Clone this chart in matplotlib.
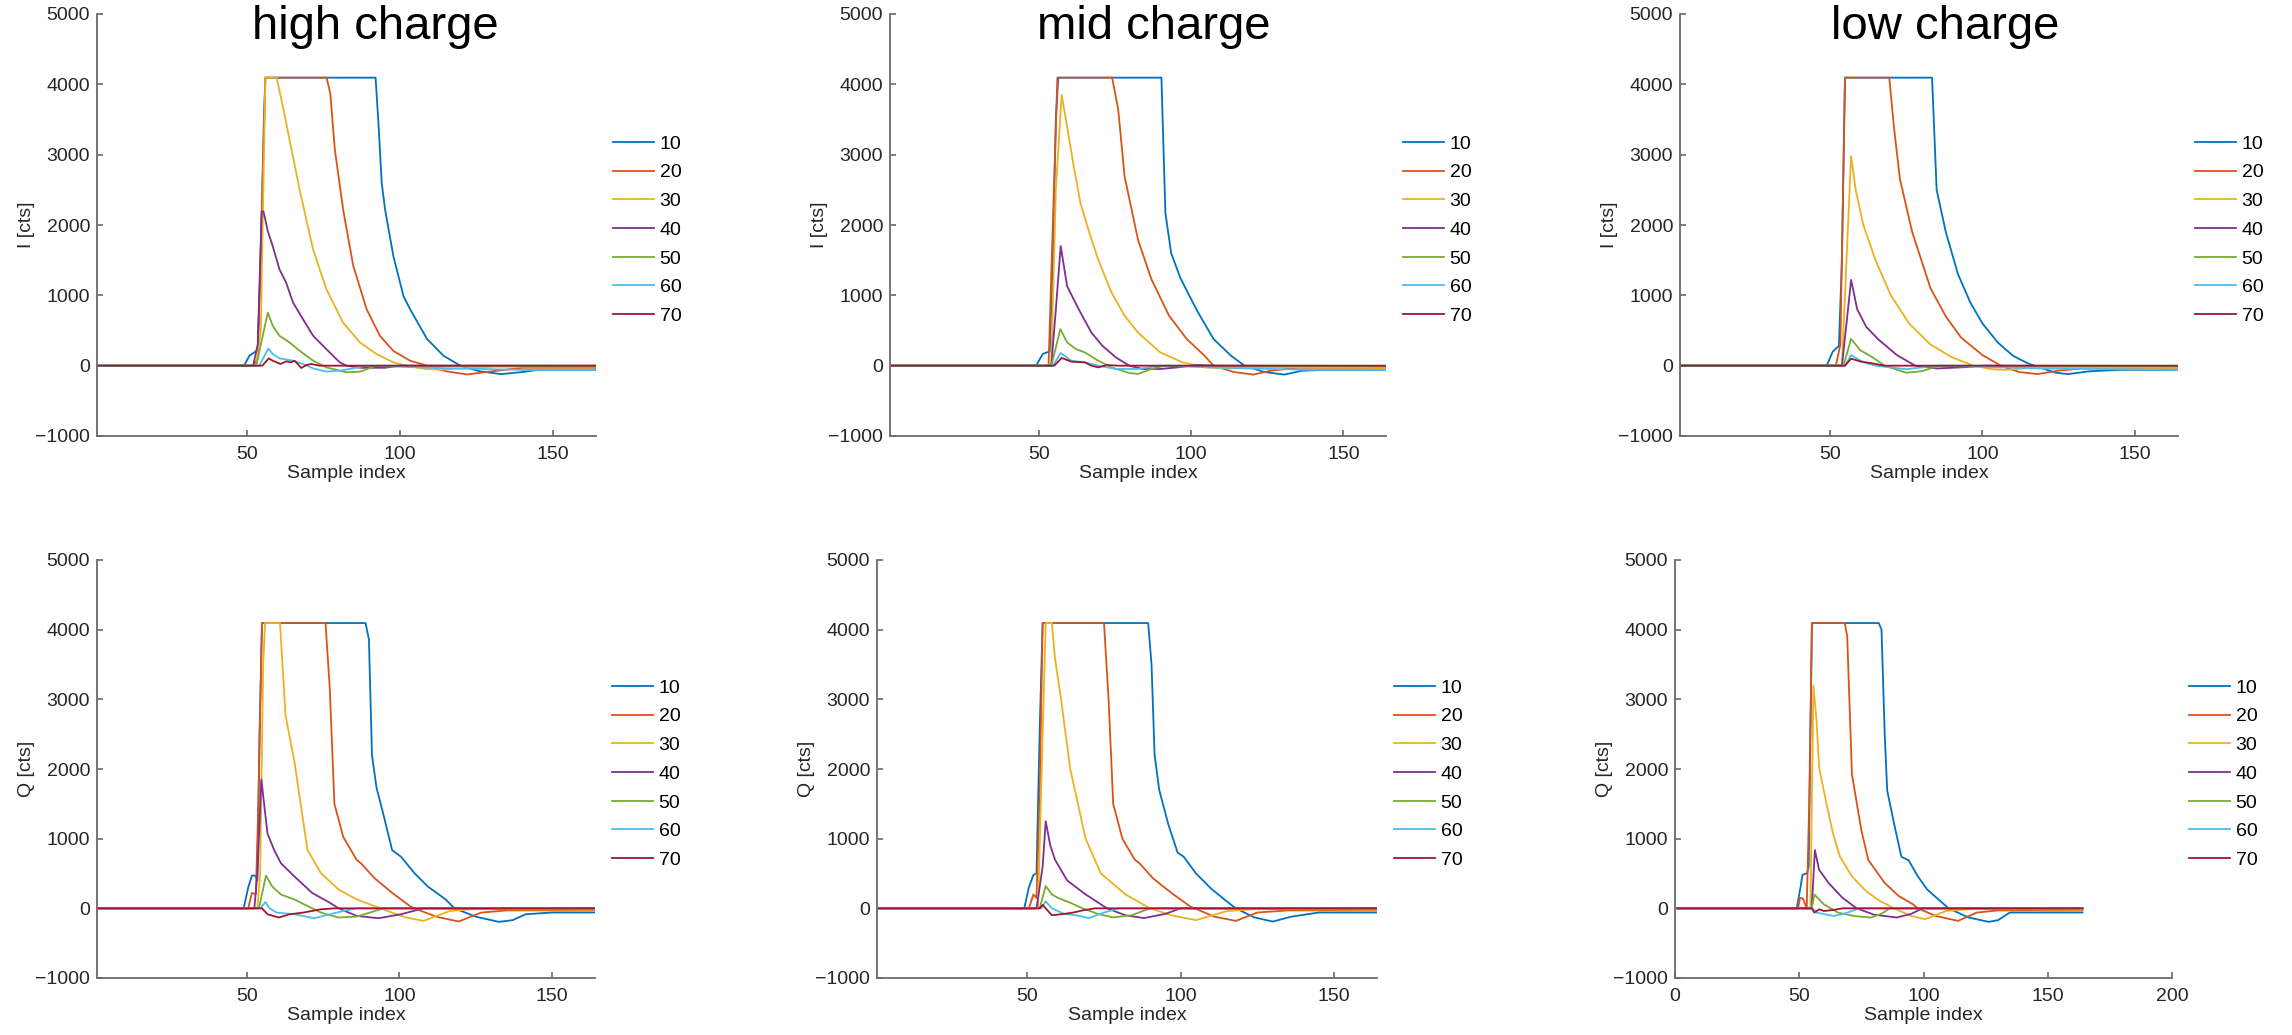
import numpy as np
import matplotlib.pyplot as plt

plt.rcParams['font.family'] = ['Liberation Sans', 'DejaVu Sans']

# Legend entries and MATLAB default colours
labels = ['10', '20', '30', '40', '50', '60', '70']
colors = ['#0072BD', '#D95319', '#EDB120', '#7E2F8E', '#77AC30', '#4DBEEE', '#A2142F']

titles = ['high charge', 'mid charge', 'low charge']

# ---- I, high charge (breakpoints) ----
hi_I_x = [
    [1, 49, 50.8, 52.4, 53.5, 54.5, 55.5, 56, 92, 93, 94, 95.1, 97.8, 101.1, 103.3, 108.8, 114.2, 119.7, 126, 133, 140, 145, 164],
    [1, 52, 53.5, 55, 56, 76, 77.2, 78.7, 81.4, 84.7, 89.1, 93.4, 97.8, 103.3, 108.8, 115, 122, 130, 140, 164],
    [1, 53, 54.5, 56, 59.7, 61.5, 63.9, 67.2, 71.6, 75.9, 81.4, 86.9, 92.3, 97.8, 102.2, 108, 113, 120, 130, 164],
    [1, 52, 53.5, 54.8, 55.4, 56.8, 58.4, 60.6, 62.8, 65, 68.3, 71.6, 75.9, 80.3, 82.5, 87, 95, 100, 164],
    [1, 53, 56.8, 58.4, 60.6, 63.9, 67.2, 71.6, 75.9, 82.5, 86.9, 92.3, 164],
    [1, 54, 57, 58.4, 60.6, 65, 68.3, 71.6, 75.9, 80.3, 84.7, 89.1, 110, 140, 164],
    [1, 55, 57.1, 58.4, 60.9, 62.8, 64.4, 65.5, 66.6, 67.7, 69.4, 71, 73.7, 164],
]
hi_I_y = [
    [0, 0, 142, 189, 230, 1500, 3500, 4095, 4095, 3400, 2600, 2220, 1560, 990, 800, 380, 140, 0, -80, -120, -90, -60, -60],
    [0, 0, 100, 2500, 4095, 4095, 3870, 3070, 2220, 1420, 800, 425, 210, 70, 0, -80, -125, -80, -30, -30],
    [0, 0, 500, 4095, 4095, 3730, 3210, 2500, 1650, 1090, 610, 330, 165, 47, 0, -45, -57, -40, -15, -15],
    [0, 0, 300, 2195, 2190, 1910, 1700, 1370, 1180, 900, 660, 425, 236, 47, 0, -30, -30, 0, 0],
    [0, 0, 755, 567, 425, 330, 212, 71, -24, -94, -85, 0, -10],
    [0, 0, 245, 165, 104, 71, 24, -38, -85, -71, -38, 0, -30, -60, -60],
    [0, 0, 104, 71, 24, 61, 47, 71, 24, -33, 9, 24, 0, 0],
]

# ---- I, mid charge ----
mid_I_x = [
    [1, 49, 51.2, 52.6, 53.5, 54.5, 55.5, 56.3, 90.2, 91.5, 93.4, 96.4, 99.3, 102.2, 107.3, 113.1, 117.5, 124, 130.6, 136.4, 145, 164],
    [1, 53.1, 54.5, 56, 74, 76, 78.1, 82.5, 86.9, 92.7, 98.5, 104.4, 107.3, 114, 120.4, 126.2, 135, 164],
    [1, 54, 55.5, 57.4, 59.2, 61.4, 63.6, 66.5, 69.4, 73.8, 78.1, 82.5, 89.8, 97.1, 104.4, 111.7, 125, 164],
    [1, 54, 55.5, 57.1, 59.2, 61.4, 63.6, 67.2, 70.8, 75.2, 79.6, 84, 89.8, 95.6, 101.5, 110, 164],
    [1, 54, 57, 59.2, 62.1, 65, 69.4, 73.8, 79.6, 82.5, 86.9, 91.3, 164],
    [1, 54.5, 57.1, 60.6, 65, 69.4, 75.2, 82.5, 89.8, 110, 140, 164],
    [1, 55, 57.4, 60.6, 65, 67.2, 69.4, 72.3, 76, 164],
]
mid_I_y = [
    [0, 0, 165, 190, 200, 1500, 3500, 4095, 4095, 2170, 1600, 1250, 1000, 760, 380, 140, 0, -90, -127, -71, -60, -60],
    [0, 0, 2000, 4095, 4095, 3640, 2690, 1790, 1230, 710, 380, 140, 0, -90, -127, -71, -30, -30],
    [0, 0, 2500, 3850, 3400, 2830, 2310, 1890, 1510, 1040, 710, 470, 190, 47, -24, -38, -20, -30],
    [0, 0, 800, 1700, 1130, 940, 755, 470, 283, 118, 0, -47, -47, -24, 9, 0, -5],
    [0, 0, 520, 330, 236, 189, 71, -24, -104, -118, -47, 0, -10],
    [0, 0, 180, 71, 47, 0, -47, -47, 0, -30, -60, -60],
    [0, 0, 110, 57, 47, 0, -24, 9, 0, 0],
]

# ---- I, low charge ----
lo_I_x = [
    [1, 49, 51, 53, 54, 55, 83.5, 85, 88, 92, 96, 100, 105, 110, 115, 117, 124, 128, 135, 145, 164],
    [1, 52, 53.5, 55, 69.5, 71, 73, 77, 83, 88, 93, 100, 106, 112, 118, 125, 135, 164],
    [1, 54, 55.5, 57, 58.5, 61, 65, 70, 76, 83, 90, 97, 103, 108, 118, 164],
    [1, 54, 55.5, 57, 59, 62, 66, 72, 78, 85, 95, 100, 164],
    [1, 54.5, 57, 60, 64, 68, 75, 80, 86, 164],
    [1, 55, 57, 61, 65, 75, 85, 120, 164],
    [1, 55, 57, 60, 63, 68, 164],
]
lo_I_y = [
    [0, 0, 200, 280, 1500, 4095, 4095, 2500, 1900, 1300, 900, 600, 330, 140, 30, 0, -100, -120, -80, -60, -60],
    [0, 0, 300, 4095, 4095, 3400, 2650, 1900, 1100, 700, 400, 150, 0, -90, -120, -70, -30, -30],
    [0, 0, 1500, 2980, 2500, 2000, 1500, 1000, 600, 300, 120, 0, -50, -60, -20, -30],
    [0, 0, 600, 1220, 800, 550, 370, 150, 0, -40, -20, 0, -5],
    [0, 0, 380, 220, 120, 0, -100, -80, 0, -10],
    [0, 0, 150, 50, 0, -50, 0, -40, -60],
    [0, 0, 100, 60, 40, 0, 0],
]

# ---- Q, high charge ----
hi_Q_x = [
    [1, 49, 50.5, 51.7, 52.8, 53.5, 54.2, 55, 88.9, 90, 91, 92.5, 94.7, 97.6, 100.5, 104.9, 109.2, 115.1, 118, 125, 132.5, 137, 141.3, 150, 164],
    [1, 50.5, 51.7, 53, 53.8, 55, 75.8, 77.2, 78.7, 81.6, 86, 87.4, 91.8, 97.6, 103.4, 104.9, 112, 119.4, 126.7, 135, 164],
    [1, 53.5, 54.4, 55.4, 56, 60.9, 62.7, 65.6, 69.9, 74.3, 80.1, 86, 91.8, 96.1, 102, 107.8, 116.5, 125, 164],
    [1, 52.5, 53.5, 54.8, 56.8, 59, 61.2, 65.6, 71.4, 77.2, 80.1, 86, 93.2, 100.5, 107.8, 164],
    [1, 54, 56.3, 58.3, 61.2, 65.6, 69.9, 74.3, 80.1, 86, 90.3, 94.7, 164],
    [1, 54.5, 56.1, 57.5, 59.8, 65.6, 72.1, 77.2, 81.6, 86, 164],
    [1, 55, 56.8, 60.5, 64.1, 68.5, 74.3, 78.7, 164],
]
hi_Q_y = [
    [0, 0, 300, 470, 470, 400, 2500, 4095, 4095, 3860, 2200, 1730, 1355, 836, 741, 505, 316, 128, 0, -120, -194, -170, -85, -60, -60],
    [0, 0, 222, 200, 1500, 4095, 4095, 3150, 1500, 1025, 694, 647, 434, 222, 33, 0, -120, -189, -61, -30, -30],
    [0, 0, 500, 3500, 4095, 4095, 2772, 2111, 836, 505, 269, 128, 33, -38, -130, -180, -38, -10, -20],
    [0, 0, 500, 1850, 1072, 836, 647, 458, 222, 80, 0, -109, -142, -85, 0, 0],
    [0, 0, 470, 316, 198, 128, 33, -61, -132, -118, -61, 0, -10],
    [0, 0, 90, 0, -61, -85, -142, -85, -38, 0, -5],
    [0, 0, -85, -132, -85, -61, -14, 0, 0],
]

# ---- Q, mid charge ----
mid_Q_x = [
    [1, 49, 50.5, 52, 53, 54, 55, 89.4, 90.5, 91.5, 93, 96, 99, 101, 105, 110, 115, 118, 124, 130, 136, 145, 164],
    [1, 50.5, 52, 53, 54, 55, 75, 76.5, 78, 81, 85, 86.5, 91, 97, 103, 104.5, 111, 118, 125, 135, 164],
    [1, 53.5, 55, 56, 58, 59, 61, 64, 69, 74, 82, 90, 97, 105, 115, 125, 164],
    [1, 53, 55, 56, 57.5, 59, 63, 69, 76, 82, 88, 95, 100, 164],
    [1, 54, 56, 58, 60, 64, 68, 73, 78, 84, 90, 164],
    [1, 54.5, 56, 58, 62, 66, 70, 75, 80, 164],
    [1, 54, 55, 56, 58, 62, 65, 68, 72, 164],
]
mid_Q_y = [
    [0, 0, 300, 480, 500, 2500, 4095, 4095, 3500, 2200, 1700, 1200, 800, 740, 500, 280, 100, 0, -130, -190, -120, -60, -60],
    [0, 0, 200, 150, 1500, 4095, 4095, 3000, 1500, 1000, 700, 650, 430, 220, 30, 0, -120, -180, -60, -30, -30],
    [0, 0, 2500, 4095, 4095, 3600, 3000, 2000, 1000, 500, 200, 0, -100, -170, -40, -10, -20],
    [0, 0, 600, 1250, 900, 700, 400, 200, 0, -100, -140, -80, 0, 0],
    [0, 0, 320, 200, 150, 80, 0, -80, -130, -100, 0, -10],
    [0, 0, 100, 0, -80, -100, -140, -60, 0, -5],
    [0, 0, 50, 0, -100, -80, -60, -30, 0, 0],
]

# ---- Q, low charge ----
lo_Q_x = [
    [1, 49, 50.5, 51.3, 53.2, 53.8, 54.5, 55.1, 82, 83.1, 84.4, 85.4, 88.2, 91.1, 94, 97.7, 101.5, 105.3, 110.1, 118, 126.2, 130, 134.7, 140, 164],
    [1, 49.5, 50.3, 51.5, 53, 54, 55.1, 68.3, 69.3, 71.2, 75, 77.8, 80.6, 84.4, 90.1, 95.8, 97.7, 105, 113.9, 121.4, 130, 164],
    [1, 54.5, 55.7, 57, 58, 60.7, 63.6, 66.4, 71.2, 76.9, 82.5, 88.2, 95, 100.6, 109.1, 120, 164],
    [1, 55, 56.3, 58, 61.8, 67.4, 73.1, 80, 89.2, 95, 99.6, 164],
    [1, 55, 56.1, 59.9, 65.6, 72, 78.9, 83, 86.4, 164],
    [1, 55.5, 57, 63.6, 67.4, 73.1, 75, 164],
    [1, 55, 56.1, 58, 59.9, 63.6, 67.4, 164],
]
lo_Q_y = [
    [0, 0, 300, 480, 505, 600, 2500, 4095, 4095, 4000, 2490, 1690, 1210, 740, 690, 460, 270, 150, 0, -130, -194, -170, -61, -60, -60],
    [0, 0, 151, 140, 0, 1500, 4095, 4095, 3906, 1922, 1119, 694, 553, 364, 175, 57, 0, -110, -180, -61, -30, -30],
    [0, 0, 3197, 2678, 2017, 1544, 1072, 741, 458, 246, 104, 0, -110, -156, -38, -10, -20],
    [0, 0, 836, 553, 364, 151, 0, -90, -132, -80, 0, 0],
    [0, 0, 198, 57, -61, -110, -132, -80, 0, -10],
    [0, 0, -61, -109, -85, -14, 0, -5],
    [0, 0, -61, -14, -38, -24, 0, 0],
]

W, H = 2292, 1035
fig = plt.figure(figsize=(W / 100, H / 100), dpi=100)

# axes boxes in pixels: left, top, right, bottom
boxes = [
    (97, 14, 596, 436), (890, 14, 1386, 436), (1680, 14, 2178, 436),
    (97, 560, 595, 978), (877, 560, 1377, 978), (1675, 560, 2172, 978),
]
panels = [
    (hi_I_x, hi_I_y, 'I [cts]'), (mid_I_x, mid_I_y, 'I [cts]'), (lo_I_x, lo_I_y, 'I [cts]'),
    (hi_Q_x, hi_Q_y, 'Q [cts]'), (mid_Q_x, mid_Q_y, 'Q [cts]'), (lo_Q_x, lo_Q_y, 'Q [cts]'),
]

axis_col = '#6a6a6a'
text_col = '#262626'

for k, (box, (xs, ys, ylab)) in enumerate(zip(boxes, panels)):
    l, t, r, b = box
    ax = fig.add_axes([l / W, 1 - b / H, (r - l) / W, (b - t) / H])
    for xv, yv, c, lab in zip(xs, ys, colors, labels):
        ax.plot(xv, yv, color=c, lw=1.3, label=lab)

    ax.set_ylim(-1000, 5000)
    ax.set_yticks(np.arange(-1000, 5001, 1000))
    if k == 5:
        ax.set_xlim(0, 200)
        ax.set_xticks([0, 50, 100, 150, 200])
    else:
        ax.set_xlim(1, 164)
        ax.set_xticks([50, 100, 150])

    for s in ['top', 'right']:
        ax.spines[s].set_visible(False)
    for s in ['left', 'bottom']:
        ax.spines[s].set_color(axis_col)
        ax.spines[s].set_linewidth(1.3)
    ax.tick_params(direction='in', length=4, width=1.2, color=axis_col,
                   labelcolor=text_col, labelsize=14)
    ax.tick_params(axis='x', pad=7)
    ax.tick_params(axis='y', pad=5)

    ax.set_xlabel('Sample index', fontsize=14, color=text_col, labelpad=2)
    ax.set_ylabel(ylab, fontsize=14, color=text_col)
    ax.yaxis.set_label_coords(-62 / (r - l), 0.5)

    ax.legend(loc='center left', bbox_to_anchor=(1 + 17 / (r - l), 0.5 - 5 / (b - t)),
              frameon=False, fontsize=14, handlelength=2.1, handletextpad=0.3,
              labelspacing=0.57, borderpad=0, borderaxespad=0)

# column titles
title_x = [375, 1154, 1945]
for tx, tt in zip(title_x, titles):
    fig.text(tx / W, 1 - 5 / H, tt, ha='center', va='top', fontsize=34, color='black')

fig.savefig('out.png', dpi=100)
